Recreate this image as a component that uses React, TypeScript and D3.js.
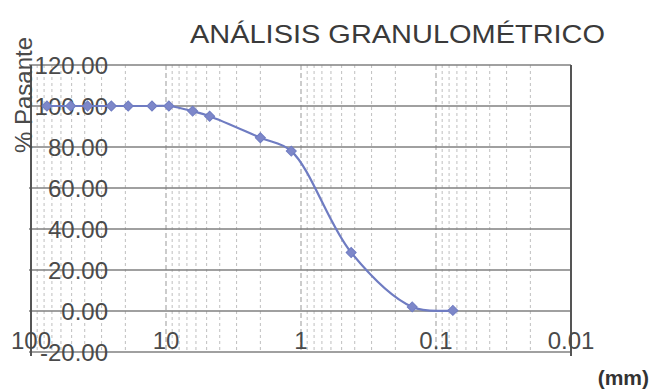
import React from "react";
import * as d3 from "d3";

// sieve opening (mm) and percent passing
const sizes = [76.2, 50.8, 38.1, 25.4, 19.05, 12.7, 9.525, 6.35, 4.75, 2.0, 1.18, 0.425, 0.15, 0.075];
const passing = [100, 100, 100, 100, 100, 100, 100, 97.5, 95, 84.5, 78, 28.5, 2, 0.3];
const yTicks = [-20, 0, 20, 40, 60, 80, 100, 120];
const xTicks = [100, 10, 1, 0.1, 0.01];
const xTickLabels = ["100", "10", "1", "0.1", "0.01"];

const W = 651;
const H = 390;
const FONT = "'Liberation Sans', Arial, sans-serif";

export default function App() {
  const x = d3.scaleLog().domain([100, 0.01]).range([31, 571]);
  const y = d3.scaleLinear().domain([-20, 120]).range([352, 65]);

  const data = sizes.map((s, i) => ({ s, p: passing[i] }));
  const line = d3
    .line<{ s: number; p: number }>()
    .x(d => x(d.s))
    .y(d => y(d.p))
    .curve(d3.curveCatmullRom.alpha(0.5));

  // minor log grid lines 2..9 in each decade
  const minor: number[] = [];
  [0.01, 0.1, 1, 10].forEach(base => {
    for (let k = 2; k <= 9; k++) minor.push(base * k);
  });

  const marker = d3.symbol(d3.symbolSquare, 50)();

  return (
    <svg width={W} height={H} style={{ position: "absolute", left: 0, top: 0, background: "#fff" }}>
      <text x={190} y={43} fontFamily={FONT} fontSize={26} fill="#3a3a3a" textLength={415} lengthAdjust="spacingAndGlyphs">
        ANÁLISIS GRANULOMÉTRICO
      </text>

      {/* vertical grid */}
      {minor.map(v => (
        <line key={"m" + v} x1={x(v)} x2={x(v)} y1={y(120)} y2={y(-20)} stroke="#b8b8b8" strokeWidth={0.9} strokeDasharray="3,3" />
      ))}
      {xTicks.slice(1, 4).map(v => (
        <line key={"M" + v} x1={x(v)} x2={x(v)} y1={y(120)} y2={y(-20)} stroke="#999" strokeWidth={1} strokeDasharray="5,3" />
      ))}

      {/* horizontal grid */}
      {yTicks.map(v => (
        <line key={"h" + v} x1={x(100) - 2} x2={x(0.01)} y1={y(v)} y2={y(v)} stroke="#808080" strokeWidth={1.5} />
      ))}
      <line x1={x(100)} x2={x(100)} y1={y(120)} y2={y(-20) + 4} stroke="#555" strokeWidth={2} />
      <line x1={x(0.01)} x2={x(0.01)} y1={y(120)} y2={y(-20) + 4} stroke="#555" strokeWidth={2} />

      {/* y tick labels */}
      {yTicks.map(v => (
        <text key={"yl" + v} x={108} y={y(v)} dy="0.36em" textAnchor="end" fontFamily={FONT} fontSize={24} fill="#4a4a4a">
          {v.toFixed(2)}
        </text>
      ))}

      {/* x tick labels */}
      {xTicks.map((v, i) => (
        <text key={"xl" + v} x={x(v)} y={349} textAnchor="middle" fontFamily={FONT} fontSize={24} fill="#4a4a4a">
          {xTickLabels[i]}
        </text>
      ))}

      <text transform={`translate(32,95) rotate(-90)`} textAnchor="middle" fontFamily={FONT} fontSize={24} fill="#4a4a4a">
        % Pasante
      </text>
      <text x={649} y={385} textAnchor="end" fontFamily={FONT} fontSize={21} fontWeight="bold" fill="#333">
        (mm)
      </text>

      {/* curve */}
      <path d={line(data) || ""} fill="none" stroke="#6f7cc2" strokeWidth={2.2} />
      {data.map(d => (
        <path
          key={"p" + d.s}
          d={marker || ""}
          transform={`translate(${x(d.s)},${y(d.p)}) rotate(45)`}
          fill="#7d87c9"
          stroke="#6f7cc2"
          strokeWidth={1}
        />
      ))}
    </svg>
  );
}
